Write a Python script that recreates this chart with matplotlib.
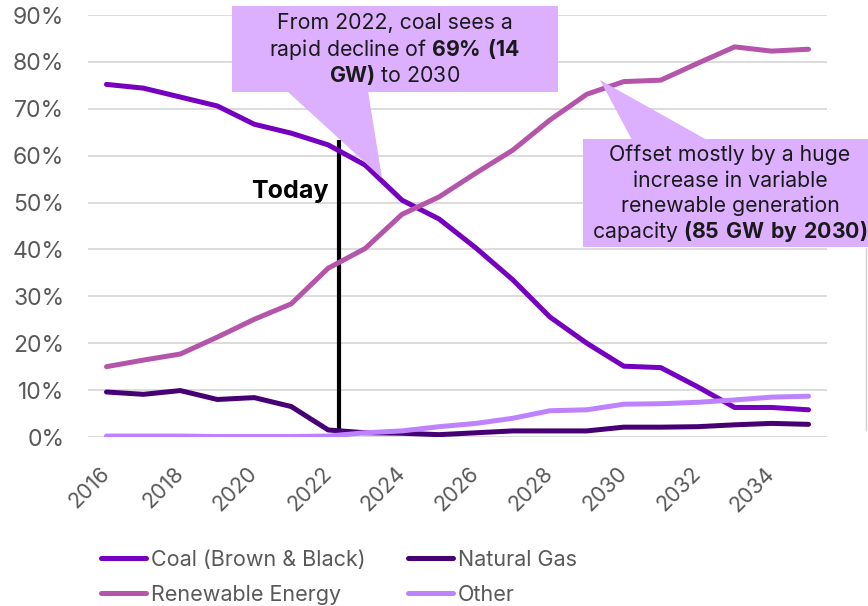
import matplotlib
matplotlib.use("Agg")
import matplotlib.pyplot as plt
from matplotlib.patches import Polygon, Rectangle
from matplotlib.lines import Line2D

plt.rcParams['font.family'] = ['Inter', 'DejaVu Sans']
plt.rcParams['mathtext.fontset'] = 'custom'
plt.rcParams['mathtext.rm'] = 'Inter'
plt.rcParams['mathtext.bf'] = 'Inter:bold'

years = list(range(2016, 2036))
tick_years = [y for y in years if y % 2 == 0]

coal = [75.2, 74.4, 72.5, 70.6, 66.7, 64.8, 62.3, 58.0, 50.5, 46.5,
        40.3, 33.5, 25.6, 20.0, 15.1, 14.8, 10.7, 6.3, 6.3, 5.8]
renewable = [15.0, 16.4, 17.7, 21.3, 25.1, 28.4, 36.0, 40.2, 47.5, 51.2,
             56.3, 61.2, 67.6, 73.1, 75.8, 76.1, 79.7, 83.2, 82.3, 82.7]
gas = [9.6, 9.1, 9.9, 8.0, 8.4, 6.5, 1.5, 0.9, 0.8, 0.5,
       0.9, 1.3, 1.3, 1.3, 2.1, 2.1, 2.2, 2.6, 2.9, 2.7]
other = [0.2, 0.2, 0.2, 0.1, 0.1, 0.1, 0.2, 0.9, 1.3, 2.2,
         2.9, 4.0, 5.6, 5.8, 7.0, 7.1, 7.4, 7.9, 8.5, 8.7]

series = [
    ("Coal (Brown & Black)", coal, "#7500C0"),
    ("Natural Gas", gas, "#460073"),
    ("Renewable Energy", renewable, "#B455AA"),
    ("Other", other, "#BE82FF"),
]

W, H = 868, 606
fig = plt.figure(figsize=(W / 100, H / 100), dpi=100)


def fx(px):
    return px / W


def fy(py):
    return 1 - py / H


ax = fig.add_axes([fx(88), fy(437), fx(827) - fx(88), fy(15) - fy(437)])
ax.set_xlim(years[0] - 0.5, years[-1] + 0.5)
ax.set_ylim(0, 90)

for v in range(0, 91, 10):
    ax.axhline(v, color="#D9D9D9", lw=1.3, zorder=1)

# "Today" marker
today_x = 2022.3
ax.plot([today_x, today_x], [1.0, 63.3], color="black", lw=3, zorder=2,
        solid_capstyle="butt")
ax.text(today_x - 0.3, 52.3, "Today", ha="right", va="center",
        fontsize=18, fontweight="bold", color="black")

handles = {}
for name, vals, col in series:
    ln, = ax.plot(years, vals, color=col, lw=3.6, solid_capstyle="round",
                  solid_joinstyle="round", zorder=5, label=name)
    handles[name] = ln

for s in ax.spines.values():
    s.set_visible(False)

ax.set_yticks(range(0, 91, 10))
ax.set_yticklabels([f"{v}%" for v in range(0, 91, 10)])
ax.set_xticks(tick_years)
ax.set_xticklabels([str(y) for y in tick_years], rotation=45,
                   ha="right", va="center", rotation_mode="anchor")
ax.tick_params(axis="y", length=0, pad=17, labelsize=16.5, labelcolor="#595959")
ax.tick_params(axis="x", length=0, pad=24, labelsize=15.5, labelcolor="#595959")

# Callout boxes
box_col = "#DCAFFF"


def add_patch(patch):
    fig.add_artist(patch)
    patch.set_clip_on(False)


add_patch(Polygon([(fx(287), fy(91)), (fx(368), fy(91)), (fx(382), fy(178))],
                  closed=True, transform=fig.transFigure, facecolor=box_col,
                  edgecolor="none", zorder=6))
add_patch(Rectangle((fx(232), fy(92)), fx(558) - fx(232), fy(6) - fy(92),
                    transform=fig.transFigure, facecolor=box_col,
                    edgecolor="none", zorder=6))
add_patch(Polygon([(fx(632), fy(140)), (fx(707), fy(140)), (fx(600), fy(80))],
                  closed=True, transform=fig.transFigure, facecolor=box_col,
                  edgecolor="none", zorder=6))
add_patch(Rectangle((fx(583), fy(247)), fx(870) - fx(583), fy(139) - fy(247),
                    transform=fig.transFigure, facecolor=box_col,
                    edgecolor="none", zorder=6))

txt_kw = dict(ha="center", va="center", fontsize=15.3, color="#1a1a1a",
              transform=fig.transFigure, zorder=7)
fig.text(fx(395), fy(23), "From 2022, coal sees a", **txt_kw)
fig.text(fx(395), fy(49), r"rapid decline of $\bf{69\%\ (14}$", **txt_kw)
fig.text(fx(395), fy(75), r"$\bf{GW)}$ to 2030", **txt_kw)

fig.text(fx(730), fy(155), "Offset mostly by a huge", **txt_kw)
fig.text(fx(730), fy(181), "increase in variable", **txt_kw)
fig.text(fx(730), fy(206), "renewable generation", **txt_kw)
fig.text(fx(730), fy(232), r"capacity $\bf{(85\ GW\ by\ 2030)}$", **txt_kw)

# thin frame edge on the right
fig.add_artist(Line2D([fx(866), fx(866)], [fy(430), fy(248)],
                      color="#D0D0D0", lw=1))

# Legend in two columns
leg_kw = dict(frameon=False, fontsize=15.5, handlelength=2.1,
              handletextpad=0.2, labelspacing=0.68, labelcolor="#595959",
              loc="upper left", bbox_transform=fig.transFigure,
              borderaxespad=0, borderpad=0)
leg1 = ax.legend([handles["Coal (Brown & Black)"], handles["Renewable Energy"]],
                 ["Coal (Brown & Black)", "Renewable Energy"],
                 bbox_to_anchor=(fx(101), fy(550)), **leg_kw)
ax.add_artist(leg1)
leg2 = ax.legend([handles["Natural Gas"], handles["Other"]],
                 ["Natural Gas", "Other"],
                 bbox_to_anchor=(fx(408), fy(550)), **leg_kw)

fig.savefig("out.png", dpi=100)
